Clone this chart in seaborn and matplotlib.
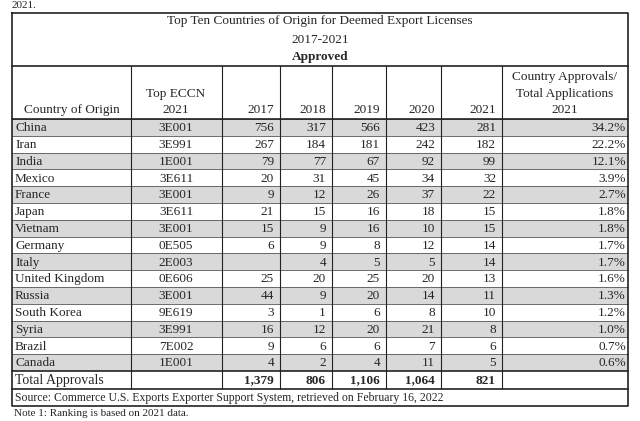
import matplotlib
matplotlib.use("Agg")
import matplotlib.pyplot as plt
import seaborn as sns

sns.set_style("white")
plt.rcParams['font.family'] = ['Liberation Serif', 'DejaVu Serif']

countries = ["China", "Iran", "India", "Mexico", "France", "Japan", "Vietnam", "Germany", "Italy",
             "United Kingdom", "Russia", "South Korea", "Syria", "Brazil", "Canada"]
eccn = ["3E001", "3E991", "1E001", "3E611", "3E001", "3E611", "3E001", "0E505", "2E003",
        "0E606", "3E001", "9E619", "3E991", "7E002", "1E001"]
y2017 = ["756", "267", "79", "20", "9", "21", "15", "6", "", "25", "44", "3", "16", "9", "4"]
y2018 = ["317", "184", "77", "31", "12", "15", "9", "9", "4", "20", "9", "1", "12", "6", "2"]
y2019 = ["566", "181", "67", "45", "26", "16", "16", "8", "5", "25", "20", "6", "20", "6", "4"]
y2020 = ["423", "242", "92", "34", "37", "18", "10", "12", "5", "20", "14", "8", "21", "7", "11"]
y2021 = ["281", "182", "99", "32", "22", "15", "15", "14", "14", "13", "11", "10", "8", "6", "5"]
share = ["34.2%", "22.2%", "12.1%", "3.9%", "2.7%", "1.8%", "1.8%", "1.7%", "1.7%", "1.6%",
         "1.3%", "1.2%", "1.0%", "0.7%", "0.6%"]
totals = ["1,379", "806", "1,106", "1,064", "821"]
headers = ["Country of Origin", "Top ECCN\n2021", "2017", "2018", "2019", "2020", "2021",
           "Country Approvals/\nTotal Applications\n2021"]

fig = plt.figure(figsize=(6.4, 4.21), dpi=100)
ax = fig.add_axes([0, 0, 1, 1])
ax.set_xlim(0, 640); ax.set_ylim(421, 0); ax.axis("off")

xs = [12, 131, 222, 280, 332, 386, 441, 502, 628]
fs = 9.5
top, hdr, d0 = 13, 66, 119
rh = (371 - d0) / 15
ytot = d0 + 15 * rh
ysrc = ytot + 18
yend = ysrc + 17

ax.text(12, 5, "2021.", fontsize=fs - 1.5, va="center")
ax.text(14, 414, "Note 1: Ranking is based on 2021 data.", fontsize=fs - 1.5, va="center")

# title
ax.text(320, 21, "Top Ten Countries of Origin for Deemed Export Licenses", ha="center", va="center", fontsize=fs)
ax.text(320, 40, "2017-2021", ha="center", va="center", fontsize=fs)
ax.text(320, 57, "Approved", ha="center", va="center", fontsize=fs, weight="bold")

# shading
for i in range(15):
    y = d0 + i * rh
    if i % 2 == 0:
        ax.fill_between([xs[0], xs[-1]], y, y + rh, color="#d9d9d9", lw=0)
    ax.plot([xs[0], xs[-1]], [y, y], color="#555", lw=0.6)

# headers
for j, h in enumerate(headers):
    if j == 0:
        ax.text(72, d0 - 3, h, ha="center", va="bottom", fontsize=fs, linespacing=1.5)
    elif j == 7:
        ax.text(565, d0 - 3, h, ha="center", va="bottom", fontsize=fs, linespacing=1.5)
    elif j == 1:
        ax.text(176, d0 - 3, h, ha="center", va="bottom", fontsize=fs, linespacing=1.5)
    else:
        ax.text(xs[j + 1] - 6, d0 - 3, h, ha="right", va="bottom", fontsize=fs)

cols = [y2017, y2018, y2019, y2020, y2021]
for i in range(15):
    yc = d0 + (i + 0.55) * rh
    ax.text(xs[0] + 3, yc, countries[i], va="center", fontsize=fs)
    ax.text(176, yc, eccn[i], ha="center", va="center", fontsize=fs)
    for k, c in enumerate(cols):
        ax.text(xs[k + 3] - 6, yc, c[i], ha="right", va="center", fontsize=fs)
    ax.text(xs[-1] - 2, yc, share[i], ha="right", va="center", fontsize=fs)

yc = ytot + 9.5
ax.text(xs[0] + 3, yc, "Total Approvals", va="center", fontsize=fs + 0.5)
for k, t in enumerate(totals):
    ax.text(xs[k + 3] - 6, yc, t, ha="right", va="center", fontsize=fs, weight="bold")
ax.text(xs[0] + 3, ysrc + 8.5, "Source: Commerce U.S. Exports Exporter Support System, retrieved on February 16, 2022",
        va="center", fontsize=fs - 1)

lc = "#222"
ax.plot([xs[0], xs[-1], xs[-1], xs[0], xs[0]], [top, top, yend, yend, top], color=lc, lw=1.2)
for y in [hdr, d0, ytot, ysrc]:
    ax.plot([xs[0], xs[-1]], [y, y], color=lc, lw=1.2)
for x in xs[1:-1]:
    ax.plot([x, x], [hdr, ysrc], color=lc, lw=0.8)

fig.savefig("out.png", dpi=100)
